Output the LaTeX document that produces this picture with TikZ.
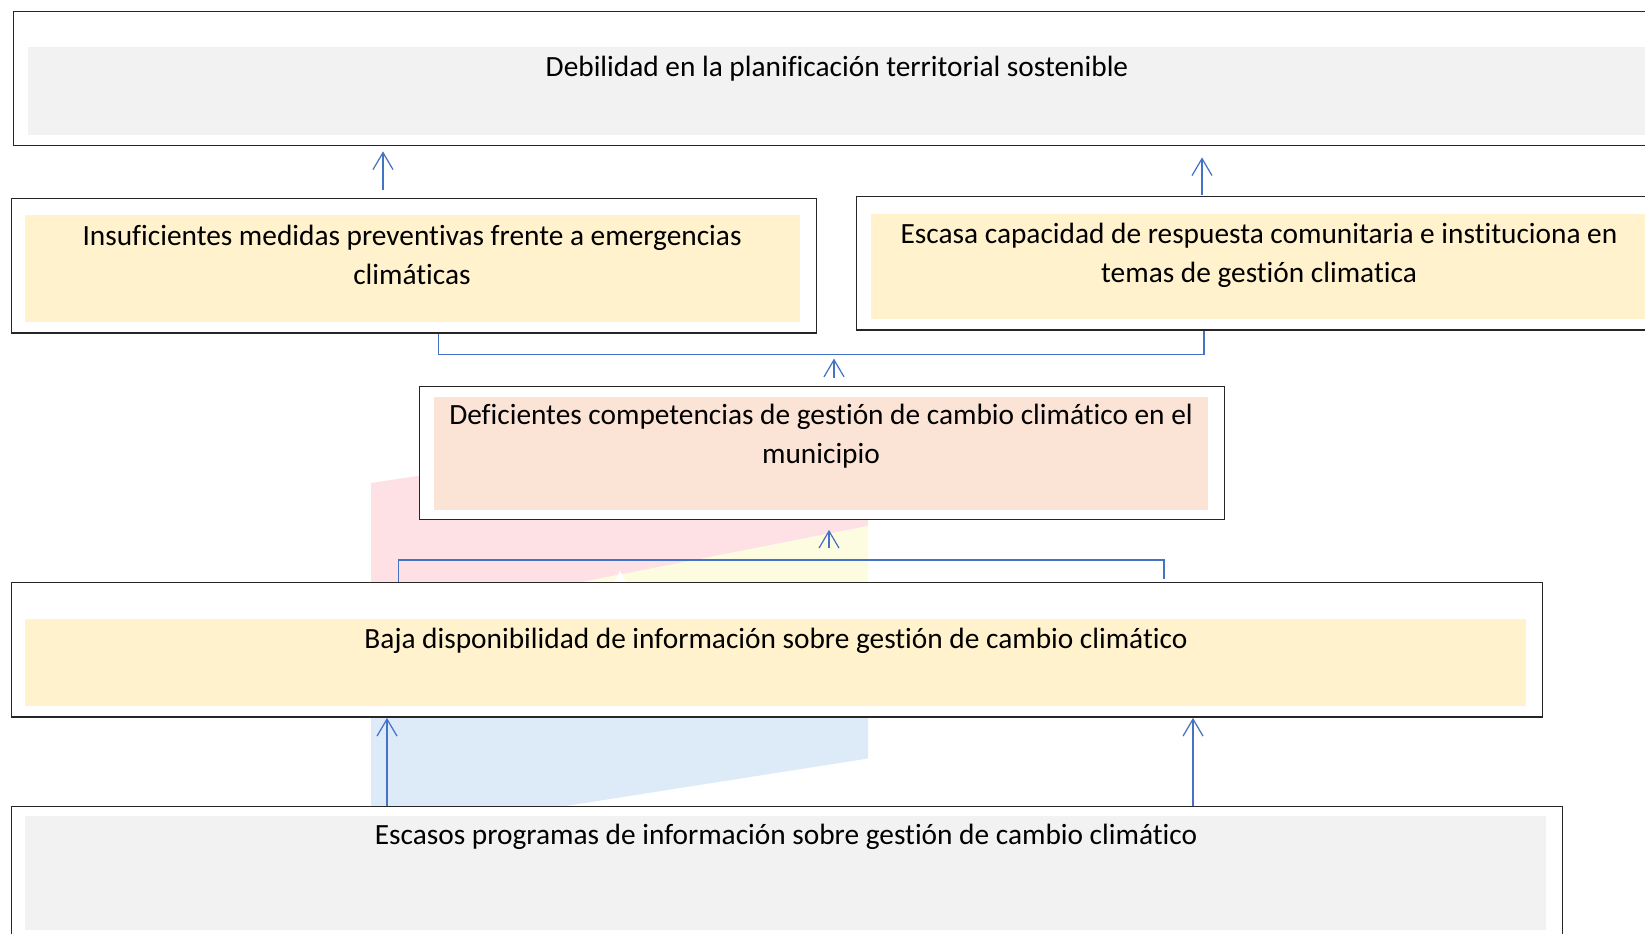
\documentclass[tikz,border=0pt]{standalone}
\usepackage{fontspec}
\setmainfont{Carlito}[Ligatures=CommonOff]
\usetikzlibrary{arrows.meta,positioning,calc}
\definecolor{gris}{HTML}{F2F2F2}
\definecolor{amarillo}{HTML}{FFF2CC}
\definecolor{salmon}{HTML}{FBE4D5}
\definecolor{azul}{HTML}{4472C4}
\definecolor{rosaF}{HTML}{FDE1E5}
\definecolor{amarilloF}{HTML}{FEFCE0}
\definecolor{celesteF}{HTML}{DDEBF9}

\begin{document}
\begin{tikzpicture}[x=0.02cm,y=-0.02cm,
    marco/.style={draw=black!85,line width=0.8pt,fill=white,anchor=north west,inner sep=0pt},
    texto/.style={font=\fontsize{16.7}{22.2}\selectfont,align=center,inner sep=0pt},
    conector/.style={draw=azul,line width=0.7pt},
    flecha/.style={conector,-{Straight Barb[length=0.34cm,width=0.4cm]}}]
        \useasboundingbox (0,0) rectangle (1645,933);
        \clip (0,0) rectangle (1645,933);
        
        % marca de agua
        \fill[rosaF] (371,483) -- (868,408) -- (868,526) -- (557,587) -- (371,587) -- cycle;
        \fill[amarilloF] (557,587) -- (868,526) -- (868,587) -- cycle;
        \fill[white] (612,587) -- (620,571) -- (629,587) -- cycle;
        \fill[celesteF] (371,700) -- (868,700) -- (868,758.5) -- (553,808) -- (371,808) -- cycle;
        
        % cajas
        \node[marco,minimum width=33cm,minimum height=2.69cm] (debilidad) at (12.6,10.5) {};
        \node[marco,minimum width=16.11cm,minimum height=2.69cm] (insuficientes) at (10.5,198) {};
        \node[marco,minimum width=16.12cm,minimum height=2.67cm] (escasa) at (856,196) {};
        \node[marco,minimum width=16.11cm,minimum height=2.66cm] (deficientes) at (418.6,386) {};
        \node[marco,minimum width=30.63cm,minimum height=2.69cm] (baja) at (10.5,582) {};
        \node[marco,minimum width=31.03cm,minimum height=3.2cm] (escasos) at (10.5,805.6) {};
        
        \fill[gris] (28,47) rectangle (1647,134.5);
        \fill[amarillo] (25,215) rectangle (800,322);
        \fill[amarillo] (871,214) rectangle (1647,319);
        \fill[salmon] (434,396.5) rectangle (1208,510);
        \fill[amarillo] (25,619) rectangle (1526,706);
        \fill[gris] (25,816) rectangle (1546,929.5);
        
        \node[texto] (tDebilidad) at (837,69) {Debilidad en la planificación territorial sostenible};
        \node[texto] (tInsuficientes) at (412,254.5) {Insuficientes medidas preventivas frente a emergencias\\climáticas};
        \node[texto] (tEscasa) at (1259,255.5) {Escasa capacidad de respuesta comunitaria e instituciona en\\temas de gestión climatica};
        \node[texto] (tDeficientes) at (821,436.5) {Deficientes competencias de gestión de cambio climático en el\\municipio};
        \node[texto] (tBaja) at (776,641) {Baja disponibilidad de información sobre gestión de cambio climático};
        \node[texto] (tEscasos) at (786,837) {Escasos programas de información sobre gestión de cambio climático};
        
        % conectores
        \coordinate (a1) at (383,0);
        \coordinate (a2) at (1202,0);
        \coordinate (b1) at (438.5,354.6);
        \coordinate (b2) at (1204,354.6);
        \coordinate (c) at (834,354.6);
        \coordinate (d1) at (398.6,560);
        \coordinate (d2) at (1164,560);
        \coordinate (e) at (829,560);
        \coordinate (f1) at (387,0);
        \coordinate (f2) at (1193,0);
        
        \draw[flecha,shorten <=0.16cm,shorten >=0.1cm] (insuficientes.north -| a1) -- (debilidad.south -| a1);
        \draw[flecha,shorten <=0.02cm,shorten >=0.22cm] (escasa.north -| a2) -- (debilidad.south -| a2);
        \draw[conector] (insuficientes.south -| b1) -- (b1) -- (b2) -- (escasa.south -| b2);
        \draw[flecha,shorten <=0.17cm,shorten >=0.08cm] (deficientes.north -| c) -- (c);
        \draw[conector,shorten <=0.06cm] (baja.north -| d2) -- (d2) -- (d1) -- (baja.north -| d1);
        \draw[flecha,shorten <=0.25cm,shorten >=0.19cm] (e) -- (deficientes.south -| e);
        \foreach \f in {f1,f2}
        {
            \draw[flecha] (escasos.north -| \f) -- (baja.south -| \f);
        };
    \end{tikzpicture}
\end{document}
